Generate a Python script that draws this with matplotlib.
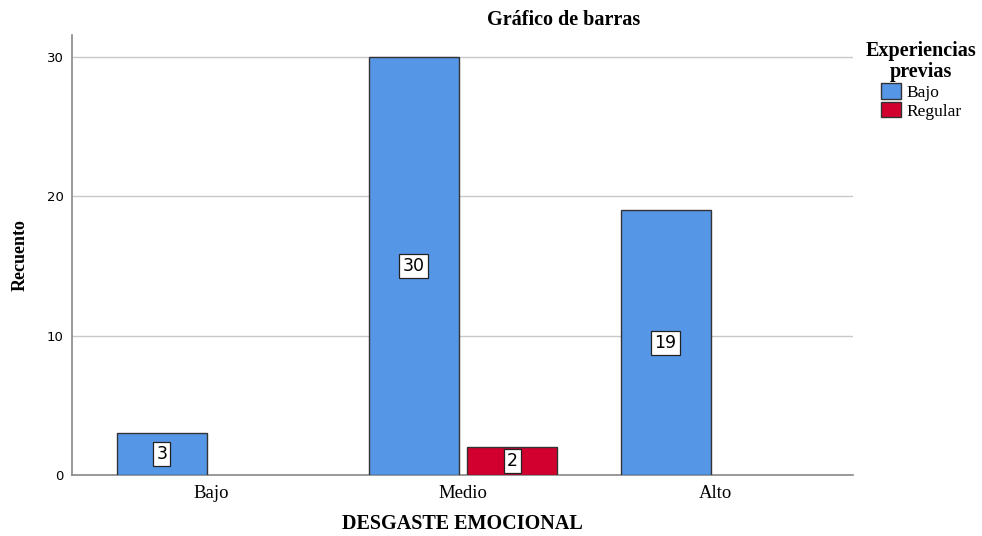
import numpy as np
import matplotlib
matplotlib.use("Agg")
import matplotlib.pyplot as plt
from matplotlib.patches import Patch

categories = ["Bajo", "Medio", "Alto"]
series_names = ["Bajo", "Regular"]
bajo_vals = [3, 30, 19]
regular_vals = [0, 2, 0]
colors = ["#5596e6", "#d2002f"]

fig = plt.figure(figsize=(9.82, 5.36), dpi=100)
ax = fig.add_axes([72 / 982, 1 - 475 / 536, (853 - 72) / 982, (475 - 35) / 536])

x = np.arange(len(categories))
w = 0.357
off = 0.196
for vals, c, sign in [(bajo_vals, colors[0], -1), (regular_vals, colors[1], 1)]:
    for xi, v in zip(x, vals):
        if v == 0:
            continue
        ax.bar(xi + sign * off, v, w, color=c, edgecolor="#333333", linewidth=1.0, zorder=3)
        ax.text(xi + sign * off, v / 2, str(v), ha="center", va="center", fontsize=12.5,
                family="DejaVu Sans", zorder=4,
                bbox=dict(boxstyle="square,pad=0.18", fc="white", ec="#222222", lw=0.9))

ax.set_xlim(-0.552, 2.548)
ax.set_ylim(0, 31.58)
ax.set_yticks([0, 10, 20, 30])
ax.set_xticks(x)
ax.set_xticklabels(categories, family="Liberation Serif", fontsize=13.5)
ax.tick_params(axis="both", length=0, pad=7)
ax.tick_params(axis="y", labelsize=9.5, pad=6)
ax.yaxis.grid(True, color="#c8c8c8", linewidth=1.0, zorder=0)
for s in ["top", "right"]:
    ax.spines[s].set_visible(False)
ax.spines["left"].set_color("#888888")
ax.spines["bottom"].set_color("#888888")
ax.spines["left"].set_linewidth(1.2)
ax.spines["bottom"].set_linewidth(1.2)

ax.set_xlabel("DESGASTE EMOCIONAL", family="Liberation Serif", fontweight="bold", fontsize=14.5, labelpad=9)
ax.set_ylabel("Recuento", family="Liberation Serif", fontweight="bold", fontsize=13, labelpad=13)
fig.text(564 / 982, 1 - 20 / 536, "Gráfico de barras", ha="center", va="center",
         family="Liberation Serif", fontweight="bold", fontsize=14.5)

handles = [Patch(facecolor=colors[i], edgecolor="#333333", label=series_names[i]) for i in range(2)]
leg = fig.legend(handles=handles, title="Experiencias\nprevias", loc="upper center",
                 bbox_to_anchor=(921 / 982, 1 - 41 / 536), frameon=False,
                 prop={"family": "Liberation Serif", "size": 12.5},
                 handlelength=1.15, handleheight=1.0, handletextpad=0.3, labelspacing=0.05,
                 borderaxespad=0, borderpad=0)
leg.get_title().set_fontproperties({"family": "Liberation Serif", "weight": "bold", "size": 14.5})
leg.get_title().set_multialignment("center")
leg.get_title().set_linespacing(1.1)

fig.savefig("out.png", dpi=100)
